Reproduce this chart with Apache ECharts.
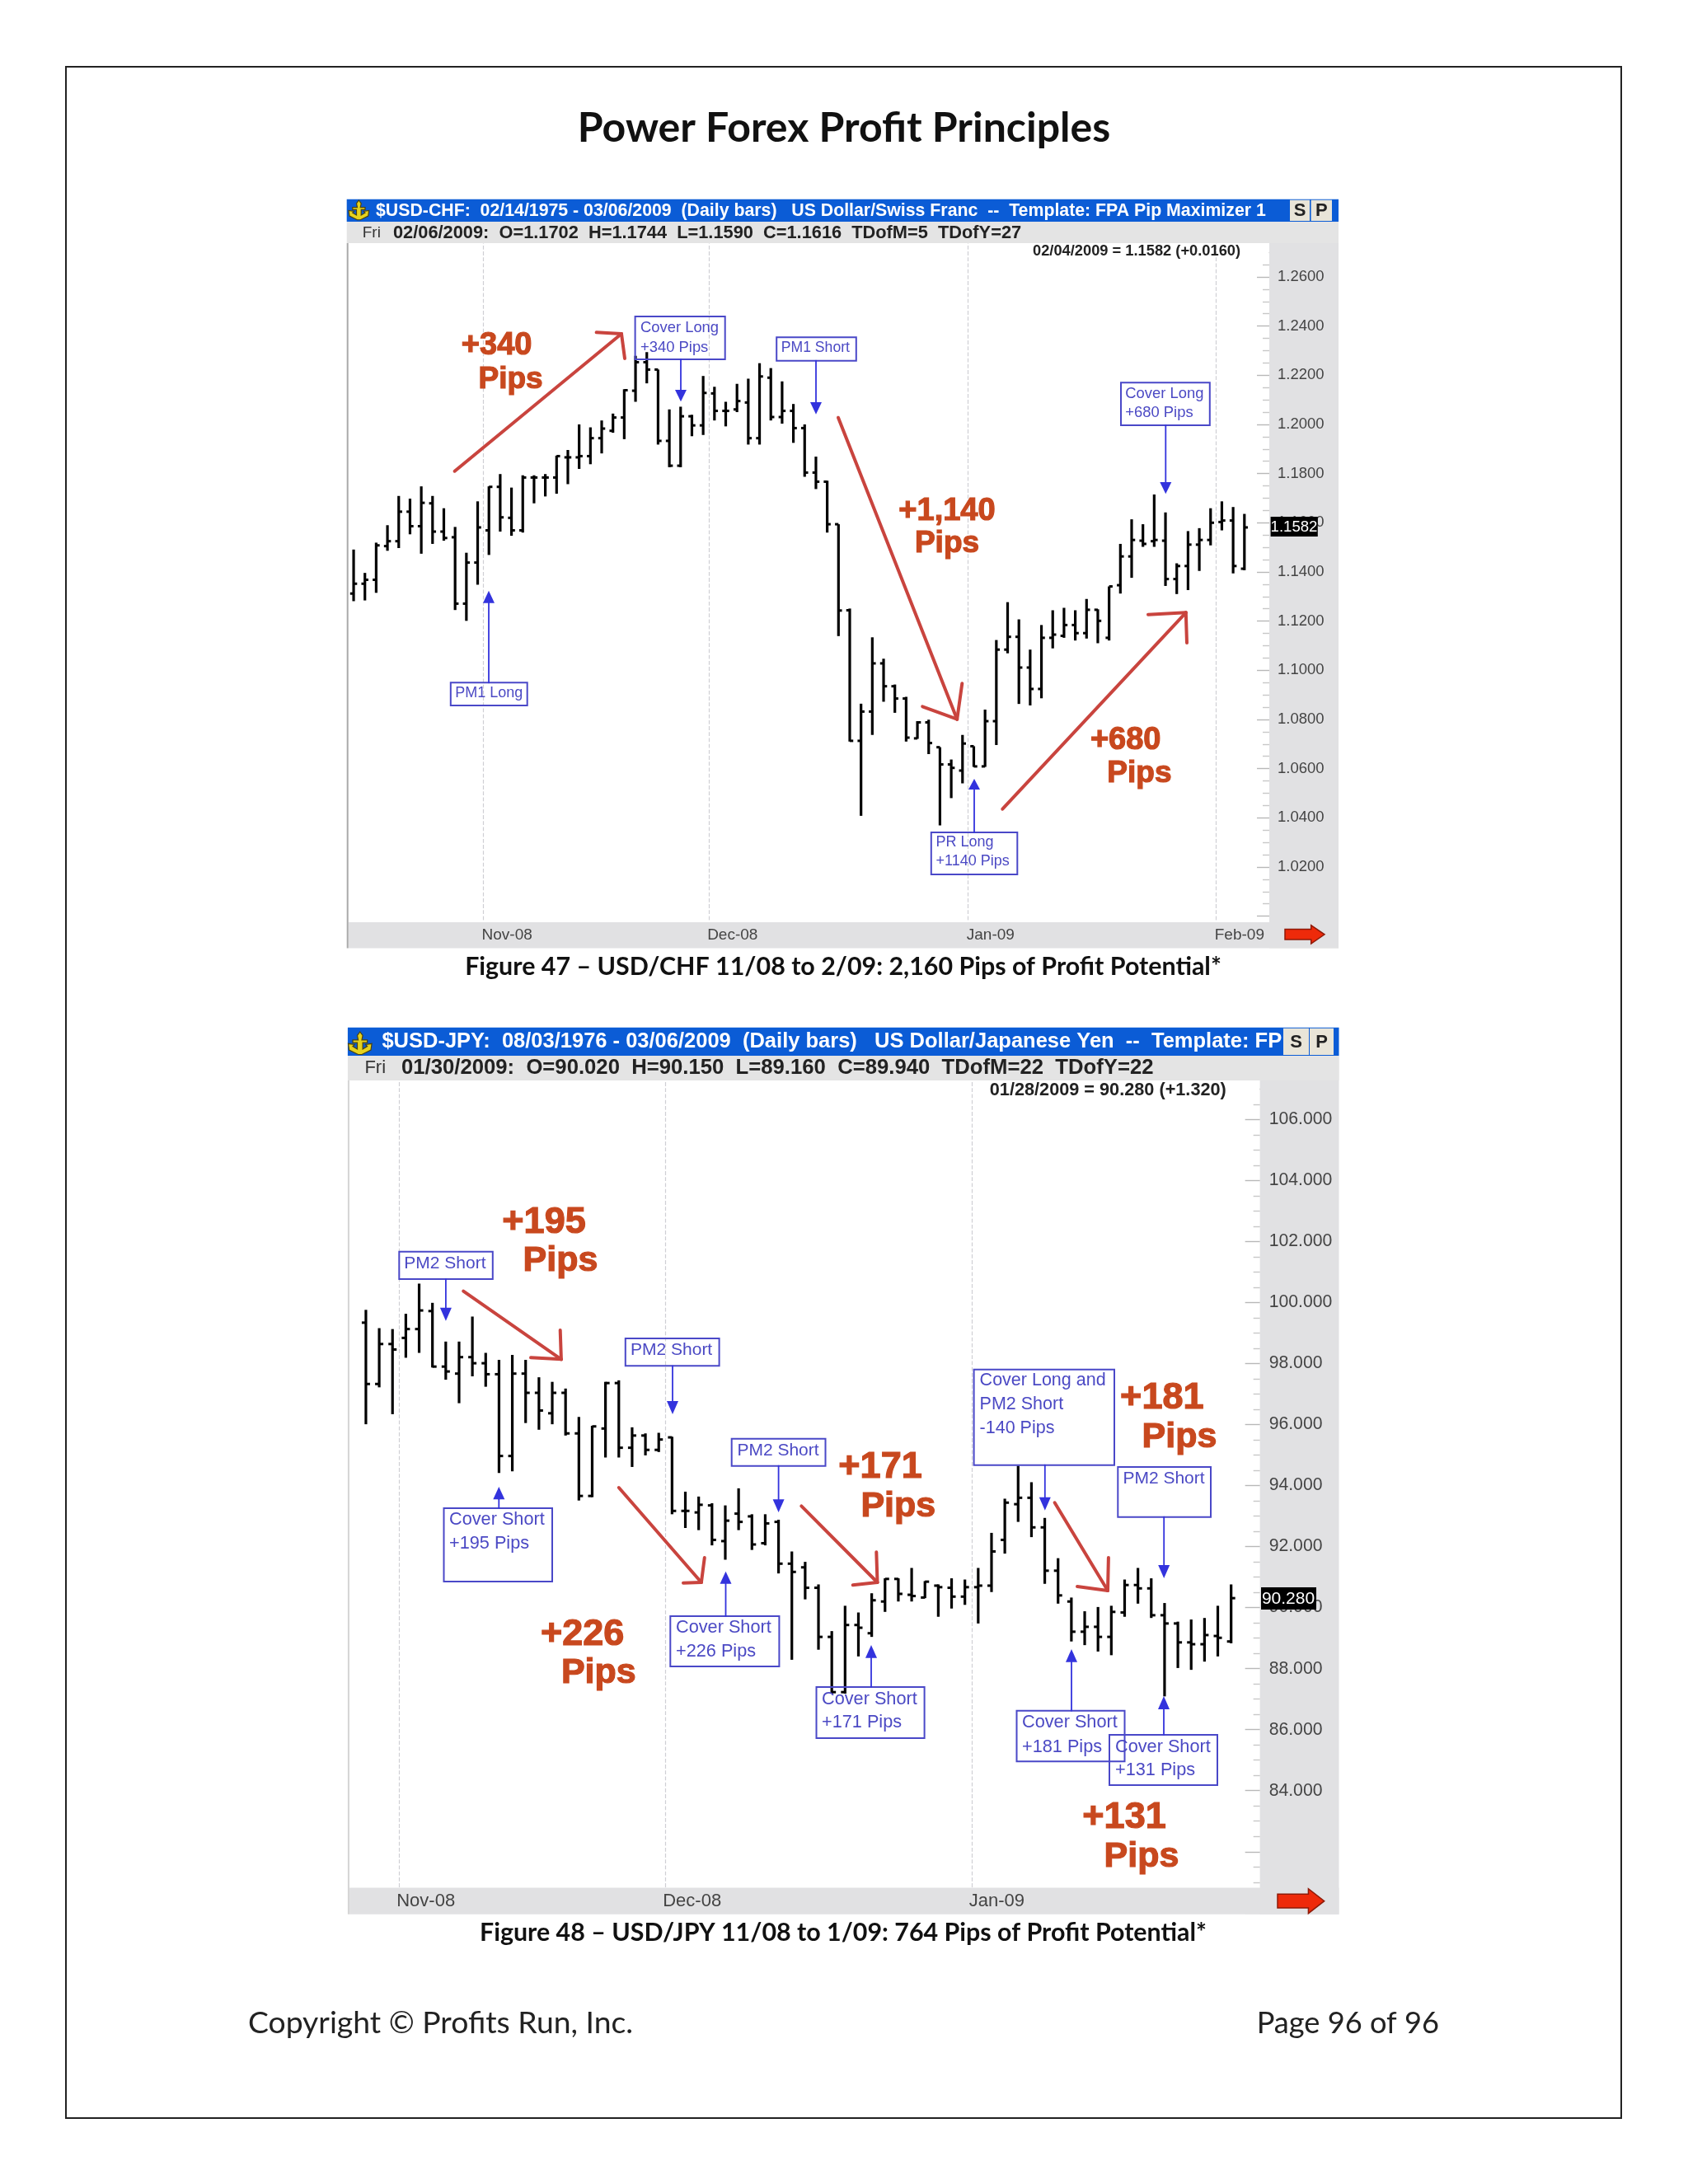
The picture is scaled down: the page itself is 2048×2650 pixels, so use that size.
<!DOCTYPE html>
<html><head><meta charset="utf-8">
<style>html,body{margin:0;padding:0;background:#fff}#c{width:2048px;height:2650px}</style>
<script src="https://cdn.jsdelivr.net/npm/echarts@6/dist/echarts.min.js"></script>
</head><body><div id="c"></div>
<script>
// ---------- data ----------
const octDaysChf = ['10/16','10/17','10/20','10/21','10/22','10/23','10/24','10/27','10/28','10/29','10/30','10/31'];
const octDaysJpy = ['10/29','10/30','10/31'];
const novDays = ['11/03','11/04','11/05','11/06','11/07','11/10','11/11','11/12','11/13','11/14','11/17','11/18','11/19','11/20','11/21','11/24','11/25','11/26','11/27','11/28'];
const decDays = ['12/01','12/02','12/03','12/04','12/05','12/08','12/09','12/10','12/11','12/12','12/15','12/16','12/17','12/18','12/19','12/22','12/23','12/24','12/25','12/26','12/29','12/30','12/31'];
const janDaysChf = ['01/01','01/02','01/05','01/06','01/07','01/08','01/09','01/12','01/13','01/14','01/15','01/16','01/19','01/20','01/21','01/22','01/23','01/26','01/27','01/28','01/29','01/30'];
const janDaysJpy = ['01/01','01/02','01/05','01/06','01/07','01/08','01/09','01/12','01/13','01/14','01/15','01/16','01/19','01/20','01/21','01/22','01/23','01/26','01/27','01/28','01/29','01/30'];
const febDays = ['02/02','02/03','02/04','02/05','02/06'];
const chfMonthStarts = ['11/03','12/01','01/01','02/02'];
const chfMonthLabels = ['Nov-08','Dec-08','Jan-09','Feb-09'];
const jpyMonthStarts = ['11/03','12/01','01/01'];
const jpyMonthLabels = ['Nov-08','Dec-08','Jan-09'];

const chfOpen = [1.1312,1.1352,1.1368,1.1505,1.1525,1.1645,1.1586,1.1679,1.1564,1.1541,1.1271,1.1438,1.1569,1.1746,1.1620,1.1569,1.1784,1.1784,1.1784,1.1866,1.1866,1.1871,1.1944,1.1974,1.2028,1.2137,1.2253,1.2223,1.1933,1.1832,1.2033,1.1996,1.2126,1.2055,1.2061,1.2089,1.1944,1.2190,1.2030,1.2055,1.1985,1.1804,1.1767,1.1594,1.1244,1.0713,1.0832,1.1028,1.0935,1.0885,1.0723,1.0788,1.0687,1.0617,1.0592,1.0691,1.0609,1.0793,1.1084,1.1136,1.1011,1.0924,1.1132,1.1140,1.1184,1.1151,1.1246,1.1132,1.1346,1.1463,1.1527,1.1525,1.1527,1.1371,1.1424,1.1511,1.1530,1.1603,1.1609,1.1413];
const chfHigh = [1.1491,1.1396,1.1519,1.1590,1.1709,1.1698,1.1748,1.1709,1.1659,1.1583,1.1478,1.1687,1.1748,1.1798,1.1743,1.1793,1.1793,1.1798,1.1873,1.1896,1.2000,1.1988,1.2016,1.2044,1.2143,1.2279,1.2294,1.2223,1.2061,1.2072,1.2039,1.2197,1.2153,1.2092,1.2165,1.2186,1.2249,1.2229,1.2175,1.2083,1.2000,1.1869,1.1771,1.1594,1.1251,1.0864,1.1134,1.1047,1.0942,1.0892,1.0793,1.0799,1.0687,1.0637,1.0737,1.0691,1.0840,1.1123,1.1277,1.1207,1.1084,1.1184,1.1244,1.1254,1.1244,1.1290,1.1248,1.1341,1.1514,1.1614,1.1594,1.1715,1.1642,1.1435,1.1566,1.1578,1.1659,1.1687,1.1664,1.1636];
const chfLow = [1.1281,1.1284,1.1315,1.1486,1.1497,1.1553,1.1474,1.1514,1.1527,1.1245,1.1201,1.1348,1.1469,1.1564,1.1547,1.1560,1.1679,1.1707,1.1718,1.1757,1.1819,1.1838,1.1882,1.1966,1.1940,1.2092,1.2167,1.1918,1.1826,1.1826,1.1952,1.1957,1.2016,1.1992,1.2050,1.1918,1.1918,1.2016,1.2003,1.1925,1.1787,1.1737,1.1560,1.1139,1.0710,1.0408,1.0737,1.0872,1.0827,1.0710,1.0721,1.0659,1.0369,1.0480,1.0540,1.0607,1.0607,1.0696,1.1069,1.0863,1.0857,1.0886,1.1089,1.1132,1.1121,1.1129,1.1110,1.1121,1.1312,1.1376,1.1502,1.1502,1.1343,1.1310,1.1326,1.1404,1.1508,1.1569,1.1394,1.1407];
const chfClose = [1.1352,1.1368,1.1508,1.1525,1.1645,1.1586,1.1681,1.1564,1.1538,1.1271,1.1438,1.1581,1.1746,1.1622,1.1569,1.1784,1.1784,1.1784,1.1871,1.1866,1.1871,1.1944,1.1983,1.2028,1.2139,1.2253,1.2223,1.1933,1.1832,1.2033,1.1996,1.2128,1.2055,1.2055,1.2095,1.1944,1.2195,1.2030,1.2055,1.1985,1.1804,1.1767,1.1594,1.1243,1.0713,1.0832,1.1028,1.0935,1.0885,1.0726,1.0788,1.0704,1.0617,1.0603,1.0702,1.0609,1.0793,1.1084,1.1136,1.1011,1.0924,1.1132,1.1145,1.1184,1.1151,1.1246,1.1201,1.1341,1.1463,1.1530,1.1514,1.1530,1.1371,1.1424,1.1511,1.1530,1.1600,1.1609,1.1424,1.1581];

const jpyOpen = [99.34,97.33,98.64,98.84,99.13,99.72,97.90,97.67,98.21,98.01,97.65,94.97,97.67,97.04,96.37,97.04,95.71,93.66,95.87,97.36,95.24,95.64,95.17,95.58,93.17,93.12,93.35,92.18,93.08,92.99,92.11,92.81,91.44,91.32,90.65,89.04,87.23,89.43,89.16,90.20,90.94,90.42,90.33,90.72,90.65,90.36,90.67,90.72,92.22,93.39,93.60,92.63,91.21,90.20,89.21,89.37,89.04,89.84,90.74,90.63,89.75,89.48,88.86,88.80,89.07,88.89];
const jpyHigh = [99.76,99.16,99.13,99.63,100.62,99.99,98.72,98.72,99.54,98.35,98.12,98.28,98.12,97.55,97.40,97.18,96.25,95.96,97.40,97.45,95.91,95.71,95.73,95.60,93.80,93.64,93.42,93.35,93.91,93.06,93.06,92.88,91.84,91.50,90.76,89.23,90.06,89.84,90.47,90.96,90.96,91.30,90.87,90.76,90.96,90.92,91.30,92.45,93.57,94.65,94.11,92.94,91.62,90.33,89.88,90.02,90.06,90.92,91.30,90.96,90.15,89.54,89.61,89.66,90.06,90.76];
const jpyLow = [96.01,97.22,96.34,98.19,98.35,97.87,97.47,96.70,97.58,97.24,94.41,94.47,96.05,95.83,96.01,95.64,93.51,93.62,94.92,94.92,94.61,94.99,95.10,93.06,92.61,92.54,92.04,91.57,92.54,91.89,92.04,91.12,88.29,90.27,88.62,87.18,87.18,88.40,89.04,89.86,90.20,90.20,90.31,89.70,89.97,90.09,89.48,90.51,91.77,92.81,92.31,90.78,90.13,88.89,88.77,88.56,88.44,89.70,90.13,89.66,87.09,88.02,87.96,88.23,88.40,88.83];
const jpyClose = [97.33,98.64,98.46,99.13,99.74,97.90,97.74,98.21,98.01,97.65,94.97,97.67,97.04,96.46,97.04,95.71,93.66,95.94,97.36,95.24,95.64,95.17,95.51,93.17,93.17,93.37,92.22,92.85,92.81,92.07,92.76,91.44,91.17,90.65,89.04,87.23,89.43,89.34,90.24,90.94,90.45,90.38,90.85,90.67,90.36,90.67,90.72,91.84,93.44,93.60,92.63,91.21,90.40,89.21,89.37,89.04,89.86,90.74,90.63,89.75,89.48,88.86,88.80,89.10,89.01,90.31];

// ---------- helpers ----------
const SANS = '"Liberation Sans", Arial, sans-serif';
const LATO = 'Lato, "Open Sans", sans-serif';
const g = [];
function rect(x0,y0,x1,y1,fill,z,stroke,lw){g.push({type:'rect',z:z,silent:true,shape:{x:x0,y:y0,width:x1-x0,height:y1-y0},style:{fill:fill||'transparent',stroke:stroke||null,lineWidth:lw||0}});}
function txt(s,x,y,font,fill,align,z,extra){g.push({type:'text',z:z||40,silent:true,x:x,y:y,style:Object.assign({text:s,font:font,fill:fill,textAlign:align||'left',textVerticalAlign:'middle'},extra||{})});}
function seg(x0,y0,x1,y1,col,lw,z){g.push({type:'line',z:z||30,silent:true,shape:{x1:x0,y1:y0,x2:x1,y2:y1},style:{stroke:col,lineWidth:lw,lineCap:'round'}});}
function poly(pts,fill,z,stroke,lw){g.push({type:'polygon',z:z||30,silent:true,shape:{points:pts},style:{fill:fill,stroke:stroke||null,lineWidth:lw||0}});}
const BLUE='#3333dd', BOX='#4a48c8', BOXT='#4b49c4', RED='#c9443e', ORG='#c8481e';
function box(x0,y0,x1,y1,lines,tx,ys,fs){rect(x0,y0,x1,y1,null,30,BOX,2);lines.forEach((l,i)=>txt(l,tx,ys[i],fs+'px '+SANS,BOXT));}
function blue(x,from,tip,base){seg(x,from,x,base,BLUE,1.8);poly([[x,tip],[x-7,base],[x+7,base]],BLUE);}
function red(a,b,c,d){seg(a[0],a[1],b[0],b[1],RED,4);seg(b[0],b[1],c[0],c[1],RED,4);seg(b[0],b[1],d[0],d[1],RED,4);}
function big(s,x,y,fs){txt(s,x,y+2,'bold '+fs+'px '+SANS,ORG,'center',40,{stroke:ORG,lineWidth:1.2});}
function anchorIcon(x,y,s){
  const P=(a,b)=>[x+a*s,y+b*s];
  poly([P(13,0),P(16,4),P(15,9),P(21,9),P(21,12),P(16,12),P(16,19),P(21,16),P(19,14),P(26,13),P(25,20),P(15,25),P(11,25),P(1,20),P(0,13),P(7,14),P(5,16),P(10,19),P(10,12),P(5,12),P(5,9),P(11,9),P(10,4)],'#e6d21e',31,'#4a4210',1.2);
}
function frame(o){
  rect(o.plotR,o.rowTop,o.r,o.band1,'#e1e1e3',-1);
  rect(o.l+2,o.band0,o.r,o.band1,'#e1e1e3',10);
  rect(o.l,o.plotTop,o.l+2,o.band1,o.edge,10);
  rect(o.l,o.rowTop,o.r,o.plotTop,'#e4e4e4',10);
  rect(o.l,o.top,o.r,o.rowTop,'#0b5cd6',10);
  rect(o.sx0,o.top+1,o.sx1,o.rowTop-1,'#e9e5d8',11);
  rect(o.px0,o.top+1,o.px1,o.rowTop-1,'#e9e5d8',11);
  txt('S',(o.sx0+o.sx1)/2,(o.top+o.rowTop)/2+1,'bold 22px '+SANS,'#222','center');
  txt('P',(o.px0+o.px1)/2,(o.top+o.rowTop)/2+1,'bold 22px '+SANS,'#222','center');
}
function redArrow(x0,y0,x1,y1){
  const m=(y0+y1)/2,h=(y1-y0)/2,s=x1-x0;
  poly([[x0,m-h*0.56],[x0+s*0.66,m-h*0.56],[x0+s*0.66,y0],[x1,m],[x0+s*0.66,y1],[x0+s*0.66,m+h*0.56],[x0,m+h*0.56]],'#ee2a0a',36,'#8e1a08',1.5);
}

// ---------- page furniture ----------
rect(80,81,1967,2570,null,0,'#222',2);
txt('Power Forex Profit Principles',1024,155.5,'bold 50px '+LATO,'#111','center');
txt('Figure 47 – USD/CHF 11/08 to 2/09: 2,160 Pips of Profit Potential*',1023,1173,'bold 30.4px '+LATO,'#111','center');
txt('Figure 48 – USD/JPY 11/08 to 1/09: 764 Pips of Profit Potential*',1023,2345,'bold 30.4px '+LATO,'#111','center');
txt('Copyright © Profits Run, Inc.',301,2455,'37.3px '+LATO,'#222');
txt('Page 96 of 96',1746,2455,'36.2px '+LATO,'#222','right');

// ---------- chart 1 window ----------
frame({l:420.7,r:1624,top:241.7,rowTop:269,plotTop:295,plotR:1540,band0:1119,band1:1150.5,sx0:1565,sx1:1589,px0:1590.6,px1:1616,edge:'#aaaaaa'});
rect(1515,295,1539.5,316,'#fff',5);
rect(1541,1100,1552,1119.5,'#e1e1e3',5);
anchorIcon(423,243,0.95);
txt('$USD-CHF:  02/14/1975 - 03/06/2009  (Daily bars)   US Dollar/Swiss Franc  --  Template: FPA Pip Maximizer 1',456,256,'bold 21.3px '+SANS,'#fff');
txt('Fri',439.7,282.5,'19px '+SANS,'#333');
txt('02/06/2009:  O=1.1702  H=1.1744  L=1.1590  C=1.1616  TDofM=5  TDofY=27',477,282.5,'bold 21.8px '+SANS,'#222');
txt('02/04/2009 = 1.1582 (+0.0160)',1253,304.5,'bold 18.3px '+SANS,'#222');
rect(1541.6,627,1598.8,651,'#000',35);
txt('1.1582',1570,639.5,'18.6px '+SANS,'#fff','center');
redArrow(1559,1122.7,1607,1145);

box(770.6,384,879.7,436,['Cover Long','+340 Pips'],777,[397.5,421.5],18.4);
blue(826,436,487.3,473);
box(942.2,409.3,1038.8,437.7,['PM1 Short'],947.8,[422.5],17.6);
blue(990,437.7,502.7,488);
box(1360,464.3,1467.8,516,['Cover Long','+680 Pips'],1365.3,[477.5,500.5],18.4);
blue(1414.3,516,599.3,585);
box(546.8,828.3,639.7,856,['PM1 Long'],552.3,[841.5],18);
blue(593,828.3,716.7,731.7);
box(1129.8,1010,1234.3,1061,['PR Long','+1140 Pips'],1135.5,[1022.5,1045.5],18);
blue(1182,1010,945,958);
red([551.6,571.7],[754,405],[723.6,403.3],[758,435]);
red([1017,506.7],[1161.2,872.7],[1119.2,857.3],[1167.3,829.3]);
red([1216.3,981.7],[1438.8,743.3],[1393,745.7],[1440,780]);
big('+340',602.6,417.3,38);big('Pips',619.6,458.3,37);
big('+1,140',1149,618.3,38);big('Pips',1149,657.3,37);
big('+680',1365.7,896.7,38);big('Pips',1382.4,936.7,37);

// ---------- chart 2 window ----------
frame({l:421.9,r:1624.5,top:1246.7,rowTop:1281,plotTop:1311,plotR:1528.6,band0:2290.5,band1:2322.7,sx0:1557,sx1:1588,px0:1589,px1:1618,edge:'#d4d4d4'});
rect(1500,1311,1528,1332,'#fff',5);
anchorIcon(422.5,1252,1.1);
txt('$USD-JPY:  08/03/1976 - 03/06/2009  (Daily bars)   US Dollar/Japanese Yen  --  Template: FP',463.4,1263.5,'bold 25.5px '+SANS,'#fff');
txt('Fri',442.4,1295.5,'22px '+SANS,'#333');
txt('01/30/2009:  O=90.020  H=90.150  L=89.160  C=89.940  TDofM=22  TDofY=22',487,1295.5,'bold 25.7px '+SANS,'#222');
txt('01/28/2009 = 90.280 (+1.320)',1200.8,1323.2,'bold 21.7px '+SANS,'#222');
rect(1530,1926,1597,1953,'#000',35);
txt('90.280',1563,1940,'21px '+SANS,'#fff','center');
redArrow(1550,2291.7,1606.7,2321.7);

box(484.3,1518.7,597.8,1552,['PM2 Short'],490.3,[1533.5],21);
blue(540.9,1552,1602.7,1586.7);
box(758.8,1624,872.6,1657.3,['PM2 Short'],765,[1638.5],21);
blue(816,1657.3,1716,1700);
box(538.5,1830,670,1919,['Cover Short','+195 Pips'],545,[1844.5,1872.8],21.7);
blue(605.3,1830,1804,1819.3);
box(813.3,1961,945.4,2022,['Cover Short','+226 Pips'],820,[1975.5,2003.8],21.7);
blue(880.5,1961,1906.7,1921.7);
box(887.7,1745.7,1001.5,1778.7,['PM2 Short'],894.4,[1760.5],21);
blue(944.6,1778.7,1835,1819.3);
box(990.5,2047,1121.6,2109,['Cover Short','+171 Pips'],997,[2062,2090.5],21.7);
blue(1057,2047,1996,2011.7);
box(1181.6,1661.7,1352,1777.7,['Cover Long and','PM2 Short','-140 Pips'],1188.6,[1675.5,1703.8,1732.8],21.5);
blue(1267.8,1777.7,1832.7,1816.7);
box(1356.3,1780,1469,1840.7,['PM2 Short'],1362.4,[1794.5],21);
blue(1412.2,1840.7,1915,1899);
box(1233.5,2075.7,1364.5,2137.3,['Cover Short','+181 Pips'],1240,[2090.5,2119.8],21.7);
blue(1300,2075.7,2001,2016.7);
box(1346,2105,1477,2166,['Cover Short','+131 Pips'],1353,[2119.8,2147.8],21.7);
blue(1412,2105,2058,2074);
red([562.2,1566.7],[680.9,1649.3],[644,1647.3],[679.7,1614]);
red([750.8,1805],[850.9,1920],[829,1920.7],[854.8,1890]);
red([972.3,1827.3],[1064.5,1920],[1034.7,1923.3],[1063.3,1883.3]);
red([1279.6,1823.3],[1344,1930],[1307,1925],[1344.9,1890]);
big('+195',660,1481.7,45);big('Pips',680,1528.3,43);
big('+226',706.6,1981.7,45);big('Pips',726.3,2028.3,43);
big('+171',1068,1778.3,45);big('Pips',1089.8,1826,43);
big('+181',1409.8,1695,45);big('Pips',1431,1741.7,43);
big('+131',1364,2204,45);big('Pips',1385,2251,43);

// ---------- ECharts option ----------
function ohlc(params, api){
  const x=api.value(0);
  const o=api.coord([x,api.value(1)]),h=api.coord([x,api.value(2)]),l=api.coord([x,api.value(3)]),c=api.coord([x,api.value(4)]);
  const t=api.size([1,0])[0]*0.31;
  const st={stroke:'#000',lineWidth:3.2}, sk={stroke:'#000',lineWidth:3};
  return {type:'group',children:[
    {type:'line',shape:{x1:h[0],y1:h[1],x2:l[0],y2:l[1]},style:st},
    {type:'line',shape:{x1:o[0]-t,y1:o[1],x2:o[0],y2:o[1]},style:sk},
    {type:'line',shape:{x1:c[0],y1:c[1],x2:c[0]+t,y2:c[1]},style:sk}
  ]};
}
const GRIDLINE={color:'#cfcfd4',type:'dashed',width:1.2};
function axes(cats,starts,labels,gridIndex,margin,pad,fs,ext){
  const startIdx=starts.map(s=>cats.indexOf(s));
  const isStart=i=>startIdx.indexOf(i)>=0;
  const isLabel=i=>startIdx.indexOf(i+1)>=0;
  return [
   {type:'category',gridIndex,data:cats,position:'bottom',boundaryGap:true,z:0,
    axisLine:{show:false},axisLabel:{show:false},
    axisTick:{show:ext>0,interval:isStart,length:ext,lineStyle:GRIDLINE},
    splitLine:{show:true,interval:isStart,showMaxLine:false,lineStyle:GRIDLINE}},
   {type:'category',gridIndex,data:cats,position:'bottom',boundaryGap:true,z:20,
    axisLine:{show:false},axisTick:{show:false},splitLine:{show:false},
    axisLabel:{show:true,interval:isLabel,margin:margin,align:'left',padding:[0,0,0,pad],
      fontFamily:SANS,fontSize:fs,color:'#444',
      formatter:(v,i)=>labels[startIdx.indexOf(i+1)]||''}}
  ];
}
function yaxis(gridIndex,min,max,interval,off,margin,fs,digits,lo,hi,major,minor){
  return {type:'value',gridIndex,position:'right',offset:off,min,max,interval,z:0,scale:true,
    axisLine:{show:false},splitLine:{show:false},
    axisTick:{show:true,inside:true,length:major,lineStyle:{color:'#b8b8b8',width:1.4}},
    minorTick:{show:true,splitNumber:4,length:minor,lineStyle:{color:'#c8c8c8',width:1.4}},
    axisLabel:{margin:margin,fontFamily:SANS,fontSize:fs,color:'#444',padding:[2,0,0,0],
      formatter:v=>(v>=lo&&v<=hi)?v.toFixed(digits):''}};
}
const chfDates=[].concat(octDaysChf,novDays,decDays,janDaysChf,febDays);
const jpyDates=[].concat(octDaysJpy,novDays,decDays,janDaysJpy);
const chfData=chfOpen.map((v,i)=>[chfDates[i],v,chfHigh[i],chfLow[i],chfClose[i]]);
const jpyData=jpyOpen.map((v,i)=>[jpyDates[i],v,jpyHigh[i],jpyLow[i],jpyClose[i]]);

const chart=echarts.init(document.getElementById('c'),null,{renderer:'canvas'});
chart.setOption({
  animation:false,backgroundColor:'#fff',
  grid:[
    {left:422.2,top:276.3,width:1121.8,height:835.3,containLabel:false},
    {left:435.85,top:1284.3,width:1098.2,height:1036.5,containLabel:false}
  ],
  xAxis:[].concat(axes(chfDates,chfMonthStarts,chfMonthLabels,0,14,5,19,7),axes(jpyDates,jpyMonthStarts,jpyMonthLabels,1,-24.5,5,22,0)),
  yAxis:[
    yaxis(0,1.00,1.28,0.02,-4,10,18.5,4,1.01,1.27,15,8),
    yaxis(1,80,108,2,-5.4,11,21.2,3,83,107,18,8)
  ],
  series:[
    {type:'custom',name:'USD/CHF',xAxisIndex:0,yAxisIndex:0,z:2,renderItem:ohlc,clip:false,encode:{x:0,y:[1,2,3,4]},data:chfData},
    {type:'custom',name:'USD/JPY',xAxisIndex:2,yAxisIndex:1,z:2,renderItem:ohlc,clip:false,encode:{x:0,y:[1,2,3,4]},data:jpyData}
  ],
  graphic:{elements:g}
});
</script></body></html>
